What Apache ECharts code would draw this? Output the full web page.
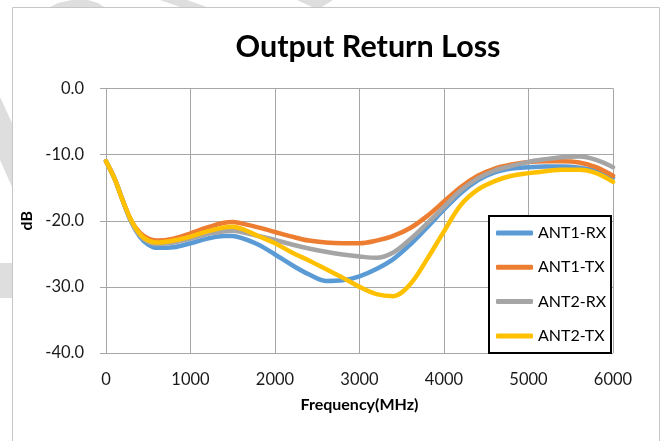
<!DOCTYPE html>
<html>
<head>
<meta charset="utf-8">
<script src="https://cdn.jsdelivr.net/npm/echarts@6/dist/echarts.min.js"></script>
<style>
html,body{margin:0;padding:0;background:#fff;}
#chart{width:667px;height:441px;}
</style>
</head>
<body>
<div id="chart"></div>
<script>
var freq = [0,100,200,300,400,500,600,800,1000,1200,1400,1500,1600,1800,2000,2200,2400,2600,2800,3000,3200,3400,3600,3800,4000,4200,4400,4600,4800,5000,5200,5400,5600,5800,6000];
var ant1Rx = [-11.0,-13.6,-17.0,-20.2,-22.4,-23.6,-24.1,-24.0,-23.4,-22.7,-22.3,-22.3,-22.6,-23.6,-25.1,-26.7,-28.1,-29.1,-29.0,-28.4,-27.3,-25.8,-23.6,-21.0,-18.3,-15.8,-13.9,-12.7,-12.1,-11.9,-11.8,-11.8,-12.0,-12.5,-13.5];
var ant1Tx = [-11.0,-13.6,-17.0,-20.0,-21.8,-22.7,-23.0,-22.7,-21.9,-21.0,-20.3,-20.2,-20.4,-21.0,-21.7,-22.4,-23.0,-23.3,-23.4,-23.4,-23.0,-22.3,-21.1,-19.3,-17.1,-14.9,-13.2,-12.1,-11.5,-11.1,-11.0,-11.0,-11.2,-11.9,-13.2];
var ant2Rx = [-11.0,-13.6,-17.0,-20.2,-22.2,-23.2,-23.5,-23.3,-22.7,-22.0,-21.6,-21.5,-21.7,-22.3,-22.9,-23.6,-24.2,-24.7,-25.1,-25.4,-25.6,-24.8,-22.8,-20.4,-17.9,-15.4,-13.6,-12.4,-11.7,-11.1,-10.7,-10.4,-10.3,-10.8,-11.9];
var ant2Tx = [-11.0,-13.6,-17.0,-20.0,-22.0,-23.0,-23.3,-23.0,-22.4,-21.6,-21.0,-20.9,-21.2,-22.3,-23.4,-24.8,-26.0,-27.3,-28.6,-30.0,-31.1,-31.4,-29.6,-25.8,-21.6,-17.6,-15.3,-14.0,-13.2,-12.8,-12.5,-12.3,-12.3,-12.8,-14.1];
var seriesNames = ['ANT1-RX','ANT1-TX','ANT2-RX','ANT2-TX'];
var seriesColors = ['#5B9BD5','#ED7D31','#A5A5A5','#FFC000'];
var yTicks = [-40,-30,-20,-10,0];
var xTicks = [0,1000,2000,3000,4000,5000,6000];

function pairs(vals){ return freq.map(function(f,i){ return [f, vals[i]]; }); }
var allVals = [ant1Rx, ant1Tx, ant2Rx, ant2Tx];

var FONT = 'Lato, "Open Sans", sans-serif';
var chart = echarts.init(document.getElementById('chart'), null, {renderer:'canvas'});
var wm = '#DEDEDE';
var option = {
  backgroundColor: '#ffffff',
  animation: false,
  title: {
    text: 'Output Return Loss',
    left: 363, top: 27, textAlign: 'center',
    textStyle: {fontFamily: FONT, fontWeight: 'bold', fontSize: 30.5, color: '#000'}
  },
  graphic: [
    {type:'polygon', shape:{points:[[0,97],[12,123],[12,187],[0,160]]}, style:{fill:wm}, silent:true},
    {type:'polygon', shape:{points:[[0,263],[12,263],[12,298],[0,298]]}, style:{fill:wm}, silent:true},
    {type:'polygon', shape:{points:[[50,7],[58,3],[72,0],[88,0],[98,3],[104,7]]}, style:{fill:wm}, silent:true},
    {type:'polygon', shape:{points:[[160,0],[187,0],[207,7],[180,7]]}, style:{fill:wm}, silent:true},
    {type:'polygon', shape:{points:[[297,0],[333,0],[322,7],[312,7]]}, style:{fill:wm}, silent:true},
    {type:'rect', shape:{x:12.5, y:7.5, width:647, height:460}, style:{fill:'none', stroke:'#C6C6C6', lineWidth:1}, silent:true},
    {type:'rect', z:100, shape:{x:489, y:216, width:122, height:137}, style:{fill:'#fff', stroke:'#000', lineWidth:2}, silent:true}
  ],
  legend: {
    z: 101,
    orient: 'vertical',
    left: 496, top: 223,
    padding: 0,
    itemWidth: 37, itemHeight: 5,
    itemGap: 14.3,
    icon: 'roundRect',
    data: seriesNames,
    textStyle: {fontFamily: FONT, fontSize: 16, color: '#000', lineHeight: 20}
  },
  grid: {left: 106, right: 54, top: 88.5, bottom: 88, containLabel: false},
  xAxis: {
    type: 'value', min: 0, max: 6000, interval: 1000,
    name: 'Frequency(MHz)', nameLocation: 'middle', nameGap: 44,
    nameTextStyle: {fontFamily: FONT, fontWeight: 'bold', fontSize: 16, color: '#000'},
    axisLine: {show: true, lineStyle: {color: '#A6A6A6', width: 1}},
    axisTick: {show: false},
    axisLabel: {fontFamily: FONT, fontSize: 16.5, color: '#1a1a1a', margin: 18,
      formatter: function(v){ return xTicks.indexOf(v) >= 0 ? String(v) : ''; }},
    splitLine: {show: true, lineStyle: {color: '#A6A6A6', width: 1}}
  },
  yAxis: {
    type: 'value', min: -40, max: 0, interval: 10,
    name: 'dB', nameLocation: 'middle', nameGap: 68, nameRotate: 90,
    nameTextStyle: {fontFamily: FONT, fontWeight: 'bold', fontSize: 16, color: '#000'},
    axisLine: {show: true, lineStyle: {color: '#A6A6A6', width: 1}},
    axisTick: {show: true, inside: false, length: 6, lineStyle: {color: '#A6A6A6'}},
    axisLabel: {fontFamily: FONT, fontSize: 16.5, color: '#1a1a1a', margin: 22,
      formatter: function(v){ return yTicks.indexOf(v) >= 0 ? v.toFixed(1) : ''; }},
    splitLine: {show: true, lineStyle: {color: '#A6A6A6', width: 1}}
  },
  series: seriesNames.map(function(n, i){
    return {
      name: n, type: 'line', smooth: 0.35, showSymbol: false, symbol: 'none',
      data: pairs(allVals[i]),
      itemStyle: {color: seriesColors[i]},
      lineStyle: {color: seriesColors[i], width: 4.5, cap: 'round', join: 'round'},
      z: 2 + i
    };
  })
};
chart.setOption(option);
</script>
</body>
</html>
